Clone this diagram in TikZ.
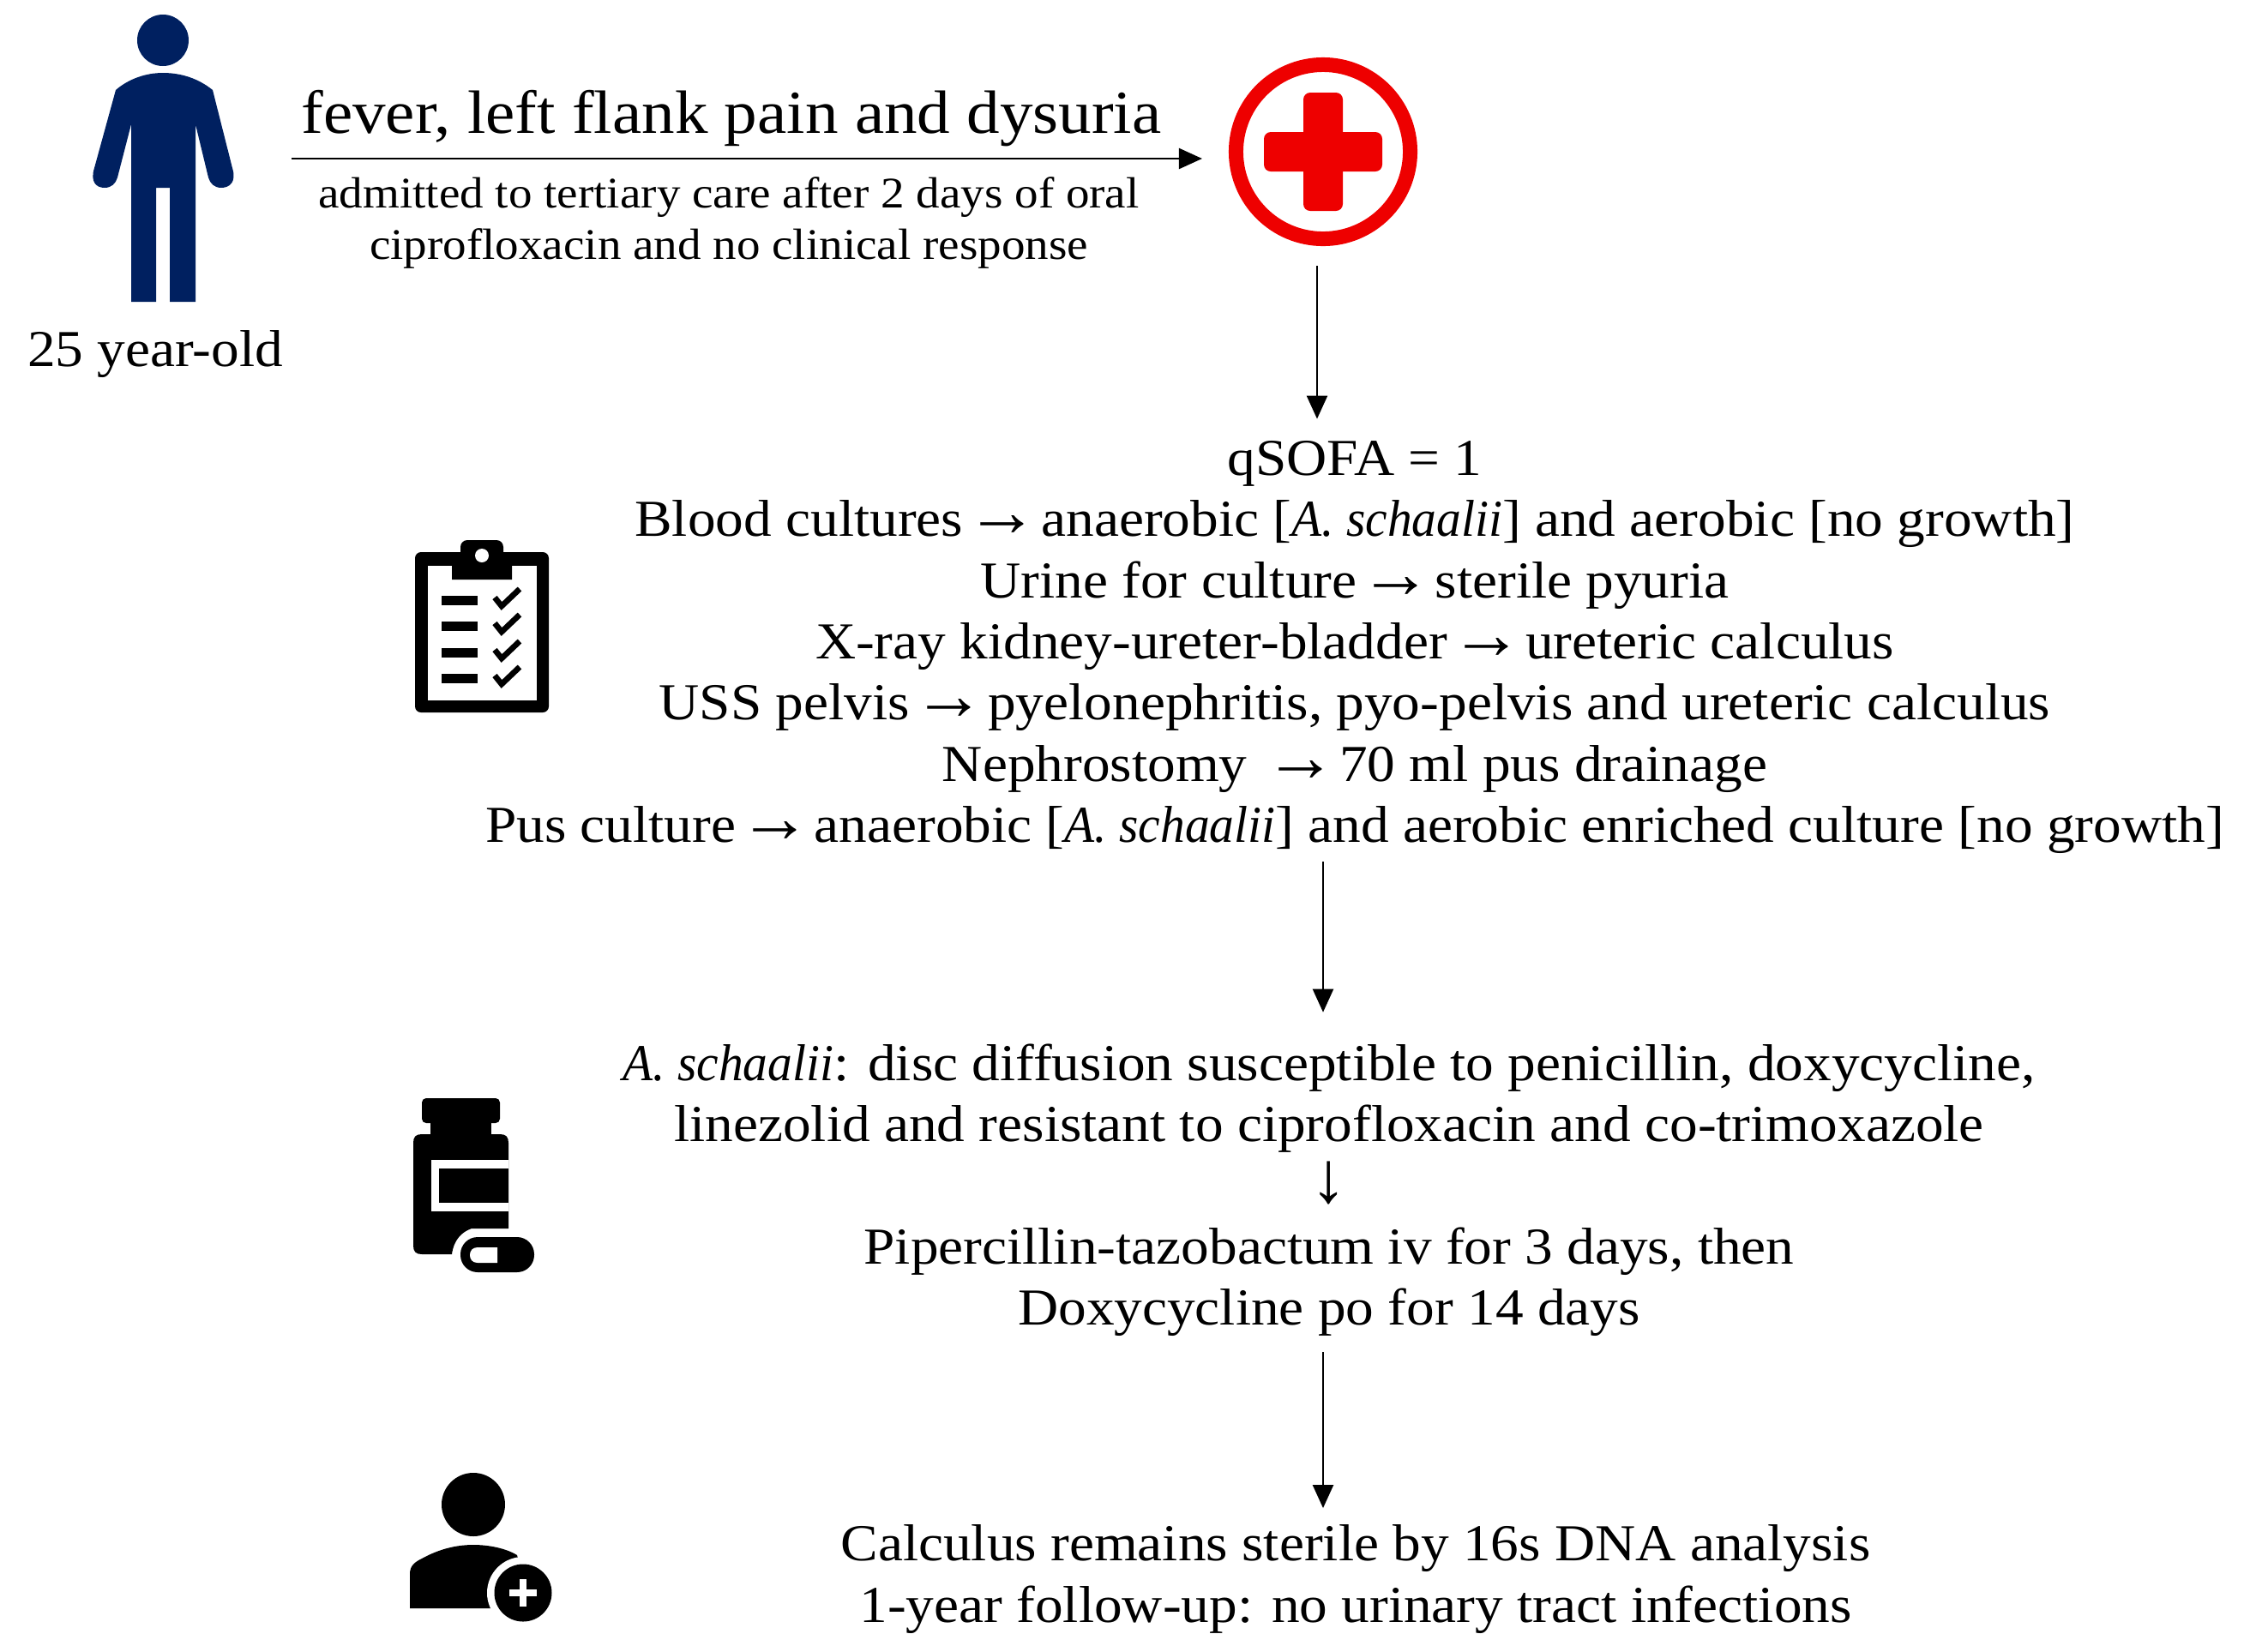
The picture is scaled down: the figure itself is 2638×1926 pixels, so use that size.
\documentclass[tikz,border=0pt]{standalone}
\usepackage{fontspec}
\setmainfont[FakeStretch=1.08,ItalicFeatures={FakeStretch=0.95}]{Liberation Serif}
\newfontface\arrowface[Scale=1.4]{Liberation Serif}
\newcommand{\arrowglyph}{\kern-3.7pt{\arrowface →}\kern-3.7pt}
\newcommand{\downglyph}{{\arrowface ↓}}
\usetikzlibrary{arrows.meta}
\definecolor{navy}{HTML}{002060}
\definecolor{crossred}{HTML}{EE0000}
\tikzset{
  arr/.style={draw=black,line width=0.65pt,-{Triangle[length=0.27cm,width=0.24cm]}},
  body/.style={inner sep=0pt,align=center,font=\fontsize{17.2}{20.3}\selectfont},
  head/.style={inner sep=0pt,align=center,font=\fontsize{20.3}{23}\selectfont},
  small/.style={inner sep=0pt,align=center,font=\fontsize{14.5}{16.8}\selectfont},
  bar/.style={fill=black,draw=none},
  tick/.style={draw=black,line width=1.9pt,line join=miter}
}
\begin{document}
\begin{tikzpicture}[x=0.01cm,y=-0.01cm]
\useasboundingbox (0,0) rectangle (2638,1926);
% person
\fill[navy] (190,47) circle (30);
\fill[navy] (135,105) .. controls (150,92) and (170,85) .. (190,85) .. controls (212,85) and (232,92) .. (248,105)
  -- (271,196) .. controls (276,212) and (268,219) .. (258,219) .. controls (250,219) and (245,214) .. (243,207)
  -- (228,145) -- (228,352) -- (198,352) -- (198,219) -- (182,219) -- (182,352) -- (153,352) -- (153,145)
  -- (137,207) .. controls (135,214) and (130,219) .. (122,219) .. controls (112,219) and (105,212) .. (110,196) -- cycle;
\node[body] (age) at (181,413) {25 year-old};
% hospital
\node[circle,draw=crossred,line width=0.17cm,minimum size=2.03cm,inner sep=0pt] (hosp) at (1543,177) {};
\fill[crossred,rounded corners=0.08cm] (1520,108) rectangle (1566,246);
\fill[crossred,rounded corners=0.08cm] (1474,154) rectangle (1612,200);
% top text
\node[head] (sym) at (853,138) {fever, left flank pain and dysuria};
\coordinate (tail) at (340,185);
\node[small] (adm) at (850,260) {admitted to tertiary care after 2 days of oral\\ciprofloxacin and no clinical response};
\draw[arr] (tail) -- ([shift={(-31,8)}]hosp.west);
% clipboard
\fill[black,rounded corners=0.07cm] (484,644) rectangle (640,831);
\fill[white] (499,660) rectangle (626,817);
\fill[black] (527,676) -- (527,644) -- (537,644) [rounded corners=0.08cm] -- (537,630) -- (587,630) [sharp corners] -- (587,644) -- (597,644) -- (597,676) -- cycle;
\fill[white] (562,648) circle (8);
\foreach \yy in {700,730,761,791}{
  \fill[bar] (515,\yy-5.5) rectangle (557,\yy+5.5);
  \draw[tick] (577,\yy-3) -- (585,\yy+7) -- (606,\yy-13);
}
% bottle
\fill[black,rounded corners=0.05cm] (492,1281) rectangle (583,1310);
\fill[black] (502,1305) rectangle (573,1328);
\fill[black] (482,1333) .. controls (482,1326) and (485,1323) .. (492,1323) -- (583,1323) .. controls (590,1323) and (593,1326) .. (593,1333)
  -- (593,1433) -- (550,1433) .. controls (538,1437) and (529,1447) .. (527,1463) -- (492,1463) .. controls (485,1463) and (482,1460) .. (482,1453) -- cycle;
\fill[white] (503,1353) rectangle (593,1413);
\fill[black] (512,1363) rectangle (593,1403);
\fill[black,rounded corners=0.2cm] (537,1443) rectangle (623,1484);
\fill[white] (580,1455) -- (580,1473) -- (557,1473) .. controls (551,1473) and (548,1469) .. (548,1464) .. controls (548,1459) and (551,1455) .. (557,1455) -- cycle;
% doctor
\fill[black] (552,1755) circle (37);
\fill[black] (478,1876) -- (478,1836) .. controls (478,1826) and (484,1822) .. (492,1818) .. controls (510,1808) and (530,1802) .. (552,1802) .. controls (570,1802) and (590,1806) .. (603,1814) -- (620,1876) -- cycle;
\fill[white] (610,1858) circle (42);
\fill[black] (610,1858) circle (33.5);
\fill[white] (594,1854) rectangle (626,1862);
\fill[white] (606,1842) rectangle (614,1874);
% blocks
\node[body] (work) at (1580,755) {qSOFA = 1\\
Blood cultures \arrowglyph{} anaerobic [\textit{A. schaalii}] and aerobic [no growth]\\
Urine for culture \arrowglyph{} sterile pyuria\\
X-ray kidney-ureter-bladder \arrowglyph{} ureteric calculus\\
USS pelvis \arrowglyph{} pyelonephritis, pyo-pelvis and ureteric calculus\\
Nephrostomy~~\arrowglyph{} 70 ml pus drainage\\
Pus culture \arrowglyph{} anaerobic [\textit{A. schaalii}] and aerobic enriched culture [no growth]};
\node[body] (treat) at (1550,1388) {\textit{A. schaalii}: disc diffusion susceptible to penicillin, doxycycline,\\
linezolid and resistant to ciprofloxacin and co-trimoxazole\\
\downglyph\\
Pipercillin-tazobactum iv for 3 days, then\\
Doxycycline po for 14 days};
\node[body] (follow) at (1581,1842) {Calculus remains sterile by 16s DNA analysis\\
1-year follow-up: no urinary tract infections};
% connectors
\draw[arr] ([shift={(-7,23)}]hosp.south) -- ([shift={(-44,-25)}]work.north);
\draw[arr] ([shift={(-37,9)}]work.south) -- ([shift={(-7,-36)}]treat.north);
\draw[arr] ([shift={(-7,18)}]treat.south) -- ([shift={(-38,-19)}]follow.north);
\end{tikzpicture}
\end{document}
